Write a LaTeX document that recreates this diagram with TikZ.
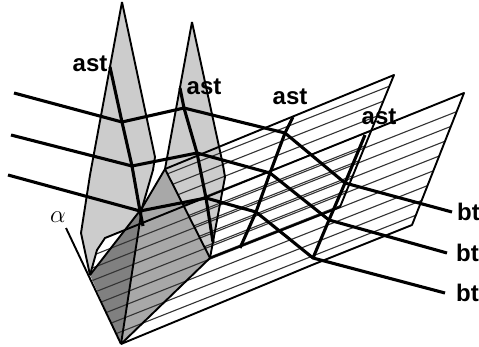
\documentclass[tikz,border=0pt]{standalone}
\usepackage{fontspec}
\setmainfont{Liberation Sans}
\definecolor{lightg}{gray}{0.80}
\definecolor{midg}{gray}{0.66}
\definecolor{darkg}{gray}{0.50}
\definecolor{hatchg}{gray}{0.2}
\tikzset{
  edgeline/.style={black,line width=1.9pt,line join=round},
  thickline/.style={black,line width=3.1pt,line join=round},
  hatchline/.style={hatchg,line width=1.1pt},
  lab/.style={inner sep=0pt,font=\fontsize{24}{24}\selectfont\bfseries}
}
\begin{document}
\begin{tikzpicture}[x=1pt,y=-1pt]
\useasboundingbox (0,0) rectangle (479,346);
% key points
\coordinate (V) at (121,344);
\coordinate (A) at (90,275);
\coordinate (M) at (142,208);
\coordinate (S) at (165,169);
\coordinate (R) at (210,258);
% left sail
\fill[lightg] (122,2) -- (90,175) -- (81,233) -- (A) -- (M) -- (153,170) -- (155,157) -- cycle;
% front plane, white
\fill[white] (A) -- (97,250) -- (105,238) -- (464,93) -- (412,225) -- (312,265) -- (V) -- cycle;
% second sail
\fill[lightg] (192,22) -- (S) -- (R) -- (225,177) -- (223,165) -- cycle;
% dark parts
\fill[midg] (M) -- (S) -- (R) -- (V) -- cycle;
\fill[darkg] (A) -- (M) -- (V) -- cycle;
% hatching of the back plane
\begin{scope}
\clip (S) -- (394,75) -- (340,207) -- (R) -- cycle;
\foreach \c in {240,252.5,...,345}
  \draw[hatchline] (100,{\c-0.395*100}) -- (420,{\c-0.395*420});
\end{scope}
% hatching of the front plane
\begin{scope}
\clip (A) -- (97,250) -- (105,238) -- (464,93) -- (412,225) -- (312,265) -- (V) -- cycle;
\foreach \c in {292,304.5,...,392}
  \draw[hatchline] (60,{\c-0.395*60}) -- (479,{\c-0.395*479});
\end{scope}
% outlines
\draw[edgeline] (122,2) -- (90,175) -- (81,233) -- (A);
\draw[edgeline] (122,2) -- (155,157) -- (153,170) -- (M);
\draw[edgeline] (A) -- (M) -- (S);
\draw[edgeline] (M) -- (V);
\draw[edgeline] (192,22) -- (S) -- (R) -- (V);
\draw[edgeline] (192,22) -- (223,165) -- (225,177) -- (R);
\draw[edgeline] (S) -- (394,75) -- (340,207) -- (R);
\draw[edgeline] (A) -- (97,250) -- (105,238) -- (464,93) -- (412,225) -- (312,265) -- (V);
\draw[edgeline] (66,228) -- (V);
% transversal thick lines
\draw[thickline] (14,93) -- (122,122) -- (184,108) -- (285,133) -- (345,183) -- (452,212);
\draw[thickline] (11,135) -- (132,166) -- (197,153) -- (270,173) -- (329,220) -- (447,253);
\draw[thickline] (8,175) -- (140,211) -- (206,198) -- (256,212) -- (313,258) -- (445,293);
% ast lines
\draw[thickline] (110,67) -- (122,122) -- (132,166) -- (140,211) -- (143,226);
\draw[thickline] (180,88) -- (184,108) -- (197,153) -- (206,198) -- (213,242);
\draw[thickline] (293,117) -- (285,133) -- (270,173) -- (256,212) -- (240,248);
\draw[thickline] (365,135) -- (345,183) -- (329,220) -- (313,258);
% labels
\node[lab] (ast1) at (90,64) {ast};
\node[lab] (ast2) at (204,87) {ast};
\node[lab] (ast3) at (290,97) {ast};
\node[lab] (ast4) at (379,117) {ast};
\node[lab,anchor=west] (bt1) at (457,212) {bt};
\node[lab,anchor=west] (bt2) at (456,253) {bt};
\node[lab,anchor=west] (bt3) at (456,293) {bt};
\node[inner sep=0pt,font=\fontsize{25}{25}\selectfont] (alpha) at (58,217) {$\alpha$};
\end{tikzpicture}
\end{document}
